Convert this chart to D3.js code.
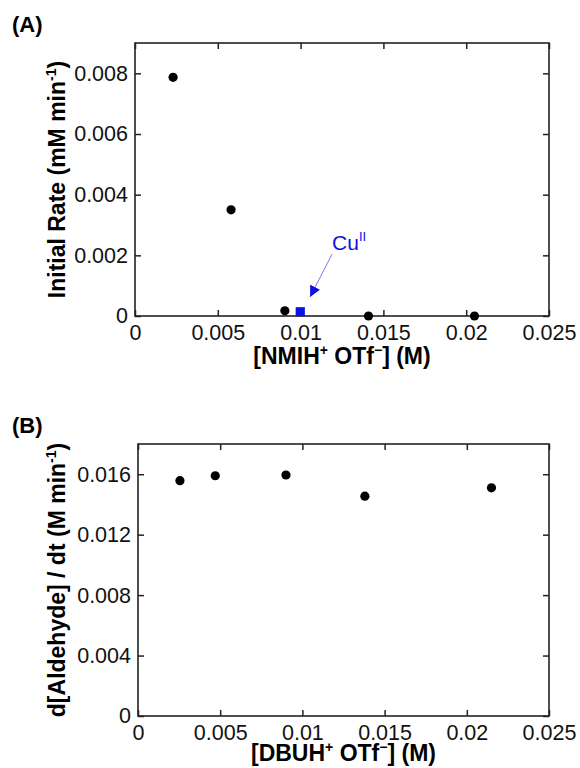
<!DOCTYPE html>
<html>
<head>
<meta charset="utf-8">
<script src="https://cdn.jsdelivr.net/npm/d3@7"></script>
<style>
  body { margin: 0; background: #fff; }
  svg { display: block; font-family: "Liberation Sans", Arial, Helvetica, sans-serif; }
</style>
</head>
<body>
<svg width="580" height="768"></svg>
<script>
// panel A data: NMIH+ OTf- concentration vs initial rate
const nmihConc = [0.0023, 0.0058, 0.00905, 0.0141, 0.0205];
const initialRate = [0.00787, 0.0035, 0.00017, 0.0, 0.0];
const cuConc = [0.00998];
const cuRate = [0.00014];

// panel B data: DBUH+ OTf- concentration vs d[Aldehyde]/dt
const dbuhConc = [0.00255, 0.0047, 0.009, 0.0138, 0.0215];
const aldRate = [0.01557, 0.0159, 0.01595, 0.01455, 0.0151];

// ticks
const xTicks = [0, 0.005, 0.01, 0.015, 0.02, 0.025];
const yTicksA = [0, 0.002, 0.004, 0.006, 0.008];
const yTicksB = [0, 0.004, 0.008, 0.012, 0.016];

const svg = d3.select("svg");
const fmt = d3.format("~g");
const tickLen = 6;

function panel(opt) {
  const x = d3.scaleLinear().domain([0, 0.025]).range([opt.left, opt.right]);
  const y = d3.scaleLinear().domain([0, opt.ymax]).range([opt.bottom, opt.top]);
  const g = svg.append("g");

  // bottom axis (ticks inward)
  const xa = g.append("g")
    .attr("transform", `translate(0,${opt.bottom})`)
    .call(d3.axisBottom(x).tickValues(xTicks).tickFormat(fmt)
      .tickSizeInner(-tickLen).tickSizeOuter(0).tickPadding(6));
  // top ticks
  g.append("g")
    .attr("transform", `translate(0,${opt.top})`)
    .call(d3.axisTop(x).tickValues(xTicks).tickFormat("")
      .tickSizeInner(-tickLen).tickSizeOuter(0));
  // left axis
  g.append("g")
    .attr("transform", `translate(${opt.left},0)`)
    .call(d3.axisLeft(y).tickValues(opt.yTicks).tickFormat(fmt)
      .tickSizeInner(-tickLen).tickSizeOuter(0).tickPadding(7));
  // right ticks
  g.append("g")
    .attr("transform", `translate(${opt.right},0)`)
    .call(d3.axisRight(y).tickValues(opt.yTicks).tickFormat("")
      .tickSizeInner(-tickLen).tickSizeOuter(0));

  g.selectAll(".domain").remove();
  g.selectAll(".tick line").attr("stroke", "#222").attr("stroke-width", 1.5);
  g.selectAll(".tick text").attr("fill", "#111").style("font-size", "21.5px");
  xa.selectAll(".tick text").attr("dy", "0.85em");

  // frame
  g.append("rect")
    .attr("x", opt.left).attr("y", opt.top)
    .attr("width", opt.right - opt.left).attr("height", opt.bottom - opt.top)
    .attr("fill", "none").attr("stroke", "#222").attr("stroke-width", 1.6);

  // panel letter
  g.append("text")
    .attr("x", 12).attr("y", opt.top - 11)
    .attr("font-weight", "bold").attr("font-size", 22)
    .text(opt.letter);

  // x title
  const xt = g.append("text")
    .attr("x", (opt.left + opt.right) / 2).attr("y", opt.bottom + opt.xTitleGap)
    .attr("text-anchor", "middle").attr("font-weight", "bold").attr("font-size", 23);
  xt.append("tspan").text(opt.xName);
  xt.append("tspan").attr("dy", -9).attr("font-size", 14).text("+");
  xt.append("tspan").attr("dy", 9).text(" OTf");
  xt.append("tspan").attr("dy", -9).attr("font-size", 14).text("\u2212");
  xt.append("tspan").attr("dy", 9).text("] (M)");

  // y title
  const yt = g.append("text")
    .attr("transform", `translate(65,${(opt.top + opt.bottom) / 2}) rotate(-90)`)
    .attr("text-anchor", "middle").attr("font-weight", "bold").attr("font-size", 23);
  yt.append("tspan").text(opt.yName);
  yt.append("tspan").attr("dy", -9).attr("font-size", 14).text("-1");
  yt.append("tspan").attr("dy", 9).text(")");

  return { g, x, y };
}

// Panel A
const A = panel({
  left: 135, right: 549, top: 43, bottom: 316, ymax: 0.009,
  yTicks: yTicksA, letter: "(A)", xName: "[NMIH", xTitleGap: 48,
  yName: "Initial Rate (mM min"
});

A.g.append("g").selectAll("circle")
  .data(d3.zip(nmihConc, initialRate))
  .join("circle")
    .attr("cx", d => A.x(d[0]))
    .attr("cy", d => A.y(d[1]))
    .attr("r", 4.6)
    .attr("fill", "#000");

A.g.append("g").selectAll("rect")
  .data(d3.zip(cuConc, cuRate))
  .join("rect")
    .attr("x", d => A.x(d[0]) - 4.6)
    .attr("y", d => A.y(d[1]) - 4.6)
    .attr("width", 9.2).attr("height", 9.2)
    .attr("fill", "#0a14e0");

// Cu(II) annotation
const blue = "#1010e0";
svg.append("defs").append("marker")
  .attr("id", "head").attr("viewBox", "0 0 10 10")
  .attr("refX", 10).attr("refY", 5)
  .attr("markerWidth", 11).attr("markerHeight", 11)
  .attr("markerUnits", "userSpaceOnUse")
  .attr("orient", "auto")
  .append("path").attr("d", "M0,0L10,5L0,10Z").attr("fill", blue);

A.g.append("line")
  .attr("x1", A.x(0.0119)).attr("y1", A.y(0.00204))
  .attr("x2", A.x(0.01057)).attr("y2", A.y(0.00063))
  .attr("stroke", "#7b7bf5").attr("stroke-width", 1)
  .attr("marker-end", "url(#head)");

const cu = A.g.append("text")
  .attr("x", A.x(0.0119)).attr("y", A.y(0.00218))
  .attr("fill", blue).attr("font-size", 21);
cu.append("tspan").text("Cu");
cu.append("tspan").attr("dy", -9).attr("font-size", 13).text("II");

// Panel B
const B = panel({
  left: 138, right: 549, top: 444, bottom: 716, ymax: 0.018,
  yTicks: yTicksB, letter: "(B)", xName: "[DBUH", xTitleGap: 45,
  yName: "d[Aldehyde] / dt (M min"
});

B.g.append("g").selectAll("circle")
  .data(d3.zip(dbuhConc, aldRate))
  .join("circle")
    .attr("cx", d => B.x(d[0]))
    .attr("cy", d => B.y(d[1]))
    .attr("r", 4.6)
    .attr("fill", "#000");
</script>
</body>
</html>
